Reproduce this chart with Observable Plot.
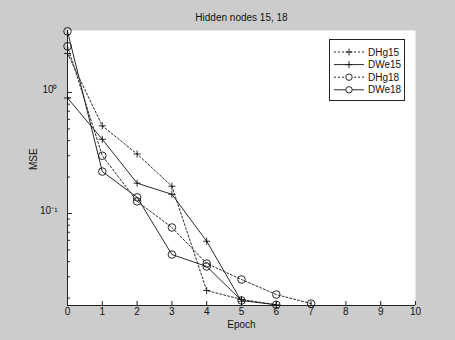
<!DOCTYPE html>
<html>
<head>
<meta charset="utf-8">
<script src="https://cdn.jsdelivr.net/npm/d3@7"></script>
<script src="https://cdn.jsdelivr.net/npm/@observablehq/plot@0.6"></script>
<style>
  html, body { margin: 0; padding: 0; background: #cccccc; }
  svg { display: block; }
</style>
</head>
<body>
<div id="chart"></div>
<script>
// ---- data ----
const seriesNames = ["DHg15", "DWe15", "DHg18", "DWe18"];
const DHg15 = [2.1, 0.53, 0.31, 0.168, 0.0231, 0.0195, 0.0176];
const DWe15 = [0.9, 0.41, 0.178, 0.144, 0.059, 0.0188];
const DHg18 = [2.41, 0.30, 0.126, 0.0766, 0.0386, 0.0285, 0.0214, 0.0180];
const DWe18 = [3.2, 0.222, 0.136, 0.0458, 0.0365, 0.0191, 0.0176];
const xTicks = [0, 1, 2, 3, 4, 5, 6, 7, 8, 9, 10];
const yMajor = [0.1, 1];
const yMajorLabels = ["10\u207B\u00B9", "10\u2070"];
const titleText = "Hidden nodes 15, 18";
const xLabel = "Epoch";
const yLabel = "MSE";

const seriesValues = [DHg15, DWe15, DHg18, DWe18];
const styles = {
  DHg15: {dash: "2,2", symbol: "plus"},
  DWe15: {dash: null, symbol: "plus"},
  DHg18: {dash: "2,2", symbol: "circle"},
  DWe18: {dash: null, symbol: "circle"}
};

const rows = [];
seriesNames.forEach((s, i) => seriesValues[i].forEach((v, e) => rows.push({series: s, epoch: e, mse: v})));

const yMinor = [];
[0.01, 0.1, 1].forEach(dec => { for (let k = 2; k <= 9; k++) yMinor.push(+(k * dec).toPrecision(3)); });

const yDomain = [0.01737, 3.25];
const yMinorIn = yMinor.filter(v => v >= yDomain[0] && v <= yDomain[1]);

const thinPlus = {
  draw(ctx, size) {
    const r = Math.sqrt(size / Math.PI);
    ctx.moveTo(-r, 0); ctx.lineTo(r, 0);
    ctx.moveTo(0, -r); ctx.lineTo(0, r);
  }
};

const W = 455, H = 340, mL = 67, mR = 40, mT = 30, mB = 35;
const frameW = W - mL - mR, frameH = H - mT - mB;
const font = "'Liberation Sans', Arial, sans-serif";

const marks = [
  Plot.frame({fill: "white", stroke: "none"}),
  // axes lines
  Plot.ruleX([0], {stroke: "#222", strokeWidth: 1}),
  Plot.ruleY([yDomain[0]], {stroke: "#222", strokeWidth: 1}),
  // ticks
  Plot.tickX(xTicks, {x: d => d, insetTop: frameH - 4, stroke: "#222"}),
  Plot.tickY(yMajor, {y: d => d, insetRight: frameW - 5, stroke: "#222"}),
  Plot.tickY(yMinorIn, {y: d => d, insetRight: frameW - 3, stroke: "#222"}),
  // tick labels
  Plot.text(xTicks, {x: d => d, frameAnchor: "bottom", dy: 9, text: d => String(d), fontSize: 10, fill: "#111"}),
  Plot.text(yMajor, {y: d => d, frameAnchor: "left", dx: -10, dy: -3, textAnchor: "end", text: (d, i) => yMajorLabels[i], fontSize: 10, fill: "#111"}),
  // titles
  Plot.text([titleText], {frameAnchor: "top", dy: -17, text: d => d, fontSize: 10, fill: "#111"}),
  Plot.text([xLabel], {frameAnchor: "bottom", dy: 22, text: d => d, fontSize: 10, fill: "#111"}),
  Plot.text([yLabel], {frameAnchor: "left", dx: -34, dy: 2, rotate: -90, text: d => d, fontSize: 10, fill: "#111"})
];

seriesNames.forEach(s => {
  const d = rows.filter(r => r.series === s);
  marks.push(Plot.line(d, {x: "epoch", y: "mse", stroke: "#111", strokeWidth: 0.9, strokeDasharray: styles[s].dash || undefined}));
  marks.push(Plot.dot(d, {x: "epoch", y: "mse", r: styles[s].symbol === "plus" ? 3.5 : 3.8,
    symbol: styles[s].symbol === "plus" ? thinPlus : "circle", stroke: "#111", fill: "none", strokeWidth: 0.9}));
});

const plot = Plot.plot({
  width: W, height: H,
  marginLeft: mL, marginRight: mR, marginTop: mT, marginBottom: mB,
  style: {background: "#cccccc", fontFamily: font, fontSize: "10px"},
  x: {domain: [0, 10], axis: null},
  y: {type: "log", domain: yDomain, axis: null},
  marks
});

// legend
const svg = d3.select(plot);
const lg = svg.append("g").attr("font-family", font).attr("font-size", 10).attr("text-anchor", "start");
lg.append("rect").attr("x", 329.5).attr("y", 39.5).attr("width", 75).attr("height", 61)
  .attr("fill", "white").attr("stroke", "#222").attr("stroke-width", 1);
seriesNames.forEach((s, i) => {
  const y = 52 + i * 12.6;
  lg.append("line").attr("x1", 334).attr("x2", 364).attr("y1", y).attr("y2", y)
    .attr("stroke", "#111").attr("stroke-width", 0.9).attr("stroke-dasharray", styles[s].dash);
  if (styles[s].symbol === "plus") {
    lg.append("path").attr("d", `M${345.5},${y}h7M${349},${y - 3.5}v7`).attr("stroke", "#111").attr("stroke-width", 0.9).attr("fill", "none");
  } else {
    lg.append("circle").attr("cx", 349).attr("cy", y).attr("r", 3.2).attr("fill", "white").attr("stroke", "#111").attr("stroke-width", 0.9);
  }
  lg.append("text").attr("x", 368).attr("y", y).attr("dy", "0.35em").attr("text-anchor", "start").attr("fill", "#111").text(s);
});

document.getElementById("chart").appendChild(plot);
</script>
</body>
</html>
